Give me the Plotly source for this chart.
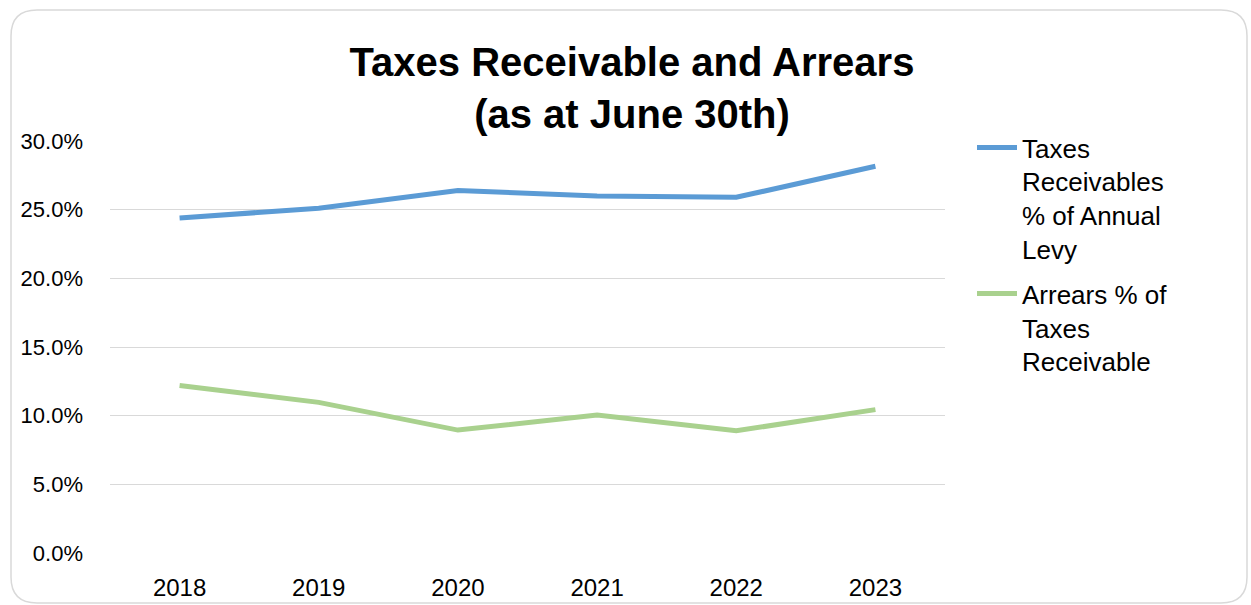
import plotly.graph_objects as go

years = ["2018", "2019", "2020", "2021", "2022", "2023"]
receivables_pct = [0.2440, 0.2510, 0.2640, 0.2600, 0.2590, 0.2816]
arrears_pct = [0.1220, 0.1097, 0.0895, 0.1005, 0.0890, 0.1044]
series_names = ["Taxes<br>Receivables<br>% of Annual<br>Levy", "Arrears % of<br>Taxes<br>Receivable"]
y_ticks = [0, 0.05, 0.10, 0.15, 0.20, 0.25, 0.30]

W, H = 1251, 605
L, R, T, B = 110, 306, 141, 52
pw, ph = W - L - R, H - T - B

fig = go.Figure()
fig.add_trace(go.Scatter(x=years, y=receivables_pct, mode="lines", name=series_names[0],
                         legendgroup="g1", line=dict(color="#5B9BD5", width=5)))
fig.add_trace(go.Scatter(x=years, y=arrears_pct, mode="lines", name=series_names[1],
                         legendgroup="g2", line=dict(color="#A9D18E", width=5)))

def P(x, y):
    a, b = (x - L) / pw, (H - B - y) / ph
    return f"{a:.5f},{b:.5f}"

# rounded border of the chart area
x0, y0, x1, y1, r = 11, 10, 1247, 603, 26
path = (f"M{P(x0 + r, y0)} L{P(x1 - r, y0)} Q{P(x1, y0)} {P(x1, y0 + r)} "
        f"L{P(x1, y1 - r)} Q{P(x1, y1)} {P(x1 - r, y1)} L{P(x0 + r, y1)} "
        f"Q{P(x0, y1)} {P(x0, y1 - r)} L{P(x0, y0 + r)} Q{P(x0, y0)} {P(x0 + r, y0)} Z")

fig.update_layout(
    width=W, height=H,
    margin=dict(l=L, r=R, t=T, b=B, autoexpand=False),
    paper_bgcolor="white", plot_bgcolor="white",
    font=dict(family="Liberation Sans, Arial, sans-serif", color="#000000"),
    title=dict(text="Taxes Receivable and Arrears<br>(as at June 30th)",
               font=dict(family="Liberation Sans, Arial, sans-serif", size=40, color="#000000", weight="bold"),
               x=632 / W, xanchor="center", xref="container",
               y=1 - 76 / H, yanchor="top", yref="container"),
    xaxis=dict(type="category", range=[-0.5, len(years) - 0.5], showgrid=False, zeroline=False,
               showline=False, automargin=False,
               tickfont=dict(size=24, color="#000000"), ticklabelstandoff=18),
    yaxis=dict(range=[0, 0.30], tickvals=y_ticks, tickformat=".1%", automargin=False,
               showgrid=True, gridcolor="#D9D9D9", gridwidth=1.3, zeroline=False, showline=False,
               tickfont=dict(size=22, color="#000000"), ticklabelstandoff=26),
    legend=dict(x=(972 - L) / pw, xanchor="left", y=(H - B - 124) / ph, yanchor="top",
                font=dict(size=26, color="#000000"), valign="top", tracegroupgap=8,
                bgcolor="rgba(0,0,0,0)", itemwidth=40),
    shapes=[dict(type="path", path=path, xref="paper", yref="paper",
                 line=dict(color="#D9D9D9", width=1.5), fillcolor="rgba(0,0,0,0)", layer="below")],
)

fig.write_html("out.html", config={"displayModeBar": False},
               post_script="document.body.style.margin='0';")
